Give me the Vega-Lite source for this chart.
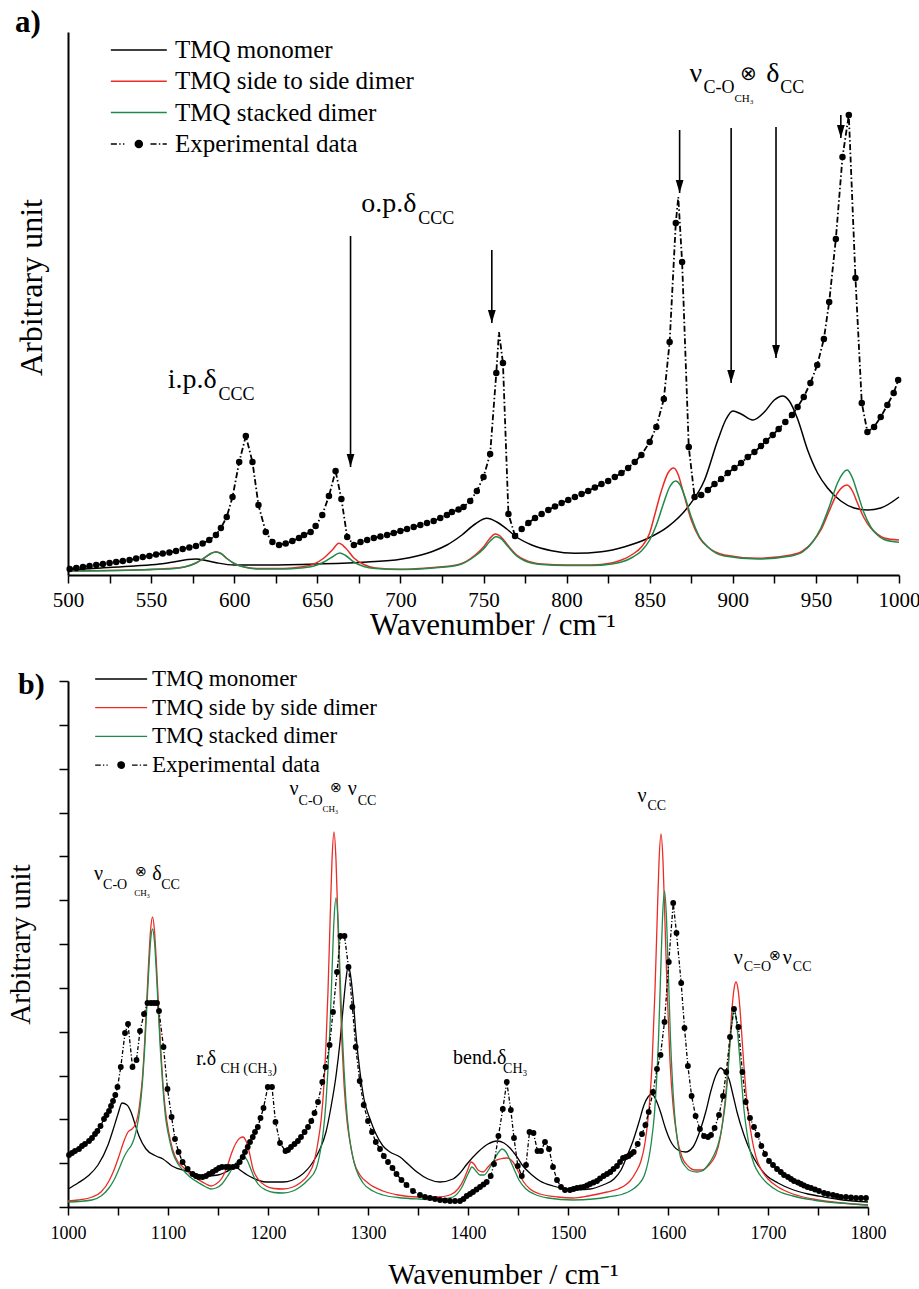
{
  "$schema": "https://vega.github.io/schema/vega-lite/v6.json",
  "padding": {"top": 7, "left": 6, "right": 0, "bottom": 0},
  "spacing": 27,
  "config": {
    "view": {"stroke": null},
    "font": "Liberation Serif",
    "axis": {"grid": false, "domainColor": "black", "domainWidth": 2, "tickColor": "black", "tickWidth": 1.5, "labelColor": "black", "titleColor": "black", "titleFontWeight": "normal", "labelFont": "Liberation Serif", "titleFont": "Liberation Serif", "labelFlush": false, "labelOverlap": false},
    "legend": {"labelFont": "Liberation Serif", "labelColor": "black"}
  },
  "resolve": {"scale": {"color": "independent", "x": "independent", "y": "independent"}, "legend": {"color": "independent"}},
  "datasets": {
    "aModel": [
      {"series":"TMQ monomer","wn":500,"v":5},{"series":"TMQ monomer","wn":520,"v":7},{"series":"TMQ monomer","wn":540,"v":9},{"series":"TMQ monomer","wn":555,"v":11},{"series":"TMQ monomer","wn":565,"v":13.5},{"series":"TMQ monomer","wn":572,"v":15.5},{"series":"TMQ monomer","wn":577,"v":16},{"series":"TMQ monomer","wn":583,"v":14.5},{"series":"TMQ monomer","wn":590,"v":12},{"series":"TMQ monomer","wn":600,"v":10},{"series":"TMQ monomer","wn":620,"v":10},{"series":"TMQ monomer","wn":650,"v":11},{"series":"TMQ monomer","wn":680,"v":13},{"series":"TMQ monomer","wn":700,"v":15.7},{"series":"TMQ monomer","wn":710,"v":19},{"series":"TMQ monomer","wn":720,"v":24},{"series":"TMQ monomer","wn":728,"v":30},{"series":"TMQ monomer","wn":737,"v":40},{"series":"TMQ monomer","wn":745,"v":51},{"series":"TMQ monomer","wn":752,"v":56.7},{"series":"TMQ monomer","wn":758,"v":53},{"series":"TMQ monomer","wn":764,"v":46},{"series":"TMQ monomer","wn":769,"v":39},{"series":"TMQ monomer","wn":779,"v":30},{"series":"TMQ monomer","wn":791,"v":24.3},{"series":"TMQ monomer","wn":805,"v":21.7},{"series":"TMQ monomer","wn":821,"v":23.3},{"series":"TMQ monomer","wn":835,"v":28.3},{"series":"TMQ monomer","wn":849,"v":36.7},{"series":"TMQ monomer","wn":861,"v":48.3},{"series":"TMQ monomer","wn":873,"v":68},{"series":"TMQ monomer","wn":883,"v":95},{"series":"TMQ monomer","wn":891,"v":135},{"series":"TMQ monomer","wn":896,"v":156},{"series":"TMQ monomer","wn":900,"v":164},{"series":"TMQ monomer","wn":905,"v":161},{"series":"TMQ monomer","wn":912,"v":155},{"series":"TMQ monomer","wn":919,"v":163},{"series":"TMQ monomer","wn":925,"v":175},{"series":"TMQ monomer","wn":930,"v":179},{"series":"TMQ monomer","wn":934,"v":174},{"series":"TMQ monomer","wn":939,"v":156},{"series":"TMQ monomer","wn":945,"v":125},{"series":"TMQ monomer","wn":951,"v":102},{"series":"TMQ monomer","wn":957,"v":87},{"series":"TMQ monomer","wn":965,"v":74},{"series":"TMQ monomer","wn":973,"v":67},{"series":"TMQ monomer","wn":981,"v":65},{"series":"TMQ monomer","wn":989,"v":67},{"series":"TMQ monomer","wn":1000,"v":78},
      {"series":"TMQ side to side dimer","wn":500,"v":4},{"series":"TMQ side to side dimer","wn":540,"v":5},{"series":"TMQ side to side dimer","wn":560,"v":6.5},{"series":"TMQ side to side dimer","wn":570,"v":8},{"series":"TMQ side to side dimer","wn":577,"v":12},{"series":"TMQ side to side dimer","wn":582,"v":17},{"series":"TMQ side to side dimer","wn":586,"v":21.5},{"series":"TMQ side to side dimer","wn":589,"v":23.3},{"series":"TMQ side to side dimer","wn":592,"v":21.5},{"series":"TMQ side to side dimer","wn":596,"v":16},{"series":"TMQ side to side dimer","wn":600,"v":11.5},{"series":"TMQ side to side dimer","wn":606,"v":8},{"series":"TMQ side to side dimer","wn":615,"v":6.5},{"series":"TMQ side to side dimer","wn":630,"v":6.5},{"series":"TMQ side to side dimer","wn":640,"v":8},{"series":"TMQ side to side dimer","wn":648,"v":11},{"series":"TMQ side to side dimer","wn":654,"v":17},{"series":"TMQ side to side dimer","wn":659,"v":25},{"series":"TMQ side to side dimer","wn":663,"v":31.7},{"series":"TMQ side to side dimer","wn":667,"v":27},{"series":"TMQ side to side dimer","wn":672,"v":17},{"series":"TMQ side to side dimer","wn":678,"v":10.5},{"series":"TMQ side to side dimer","wn":685,"v":7},{"series":"TMQ side to side dimer","wn":700,"v":5.7},{"series":"TMQ side to side dimer","wn":720,"v":7.5},{"series":"TMQ side to side dimer","wn":735,"v":10.5},{"series":"TMQ side to side dimer","wn":745,"v":20},{"series":"TMQ side to side dimer","wn":750,"v":28},{"series":"TMQ side to side dimer","wn":754,"v":37},{"series":"TMQ side to side dimer","wn":757,"v":41},{"series":"TMQ side to side dimer","wn":760,"v":39},{"series":"TMQ side to side dimer","wn":765,"v":29},{"series":"TMQ side to side dimer","wn":770,"v":20},{"series":"TMQ side to side dimer","wn":775,"v":15},{"series":"TMQ side to side dimer","wn":785,"v":11},{"series":"TMQ side to side dimer","wn":800,"v":10},{"series":"TMQ side to side dimer","wn":815,"v":10},{"series":"TMQ side to side dimer","wn":827,"v":12},{"series":"TMQ side to side dimer","wn":833,"v":15},{"series":"TMQ side to side dimer","wn":840,"v":21},{"series":"TMQ side to side dimer","wn":845,"v":28},{"series":"TMQ side to side dimer","wn":850,"v":42},{"series":"TMQ side to side dimer","wn":853,"v":60},{"series":"TMQ side to side dimer","wn":857,"v":84},{"series":"TMQ side to side dimer","wn":861,"v":102},{"series":"TMQ side to side dimer","wn":864.5,"v":107},{"series":"TMQ side to side dimer","wn":867,"v":101},{"series":"TMQ side to side dimer","wn":870,"v":84},{"series":"TMQ side to side dimer","wn":875,"v":55},{"series":"TMQ side to side dimer","wn":880,"v":37},{"series":"TMQ side to side dimer","wn":885,"v":28},{"series":"TMQ side to side dimer","wn":895,"v":20},{"series":"TMQ side to side dimer","wn":915,"v":16.7},{"series":"TMQ side to side dimer","wn":935,"v":20},{"series":"TMQ side to side dimer","wn":942,"v":24},{"series":"TMQ side to side dimer","wn":948,"v":33},{"series":"TMQ side to side dimer","wn":953,"v":45},{"series":"TMQ side to side dimer","wn":958,"v":64},{"series":"TMQ side to side dimer","wn":963,"v":82},{"series":"TMQ side to side dimer","wn":968.8,"v":90},{"series":"TMQ side to side dimer","wn":972,"v":84},{"series":"TMQ side to side dimer","wn":975,"v":72},{"series":"TMQ side to side dimer","wn":979,"v":57},{"series":"TMQ side to side dimer","wn":983,"v":47},{"series":"TMQ side to side dimer","wn":987,"v":41},{"series":"TMQ side to side dimer","wn":991,"v":37},{"series":"TMQ side to side dimer","wn":1000,"v":35},
      {"series":"TMQ stacked dimer","wn":500,"v":4},{"series":"TMQ stacked dimer","wn":560,"v":6},{"series":"TMQ stacked dimer","wn":570,"v":8},{"series":"TMQ stacked dimer","wn":577,"v":12},{"series":"TMQ stacked dimer","wn":582,"v":17},{"series":"TMQ stacked dimer","wn":586,"v":21.5},{"series":"TMQ stacked dimer","wn":589,"v":23},{"series":"TMQ stacked dimer","wn":592,"v":21.5},{"series":"TMQ stacked dimer","wn":596,"v":16},{"series":"TMQ stacked dimer","wn":600,"v":11.5},{"series":"TMQ stacked dimer","wn":606,"v":8},{"series":"TMQ stacked dimer","wn":615,"v":6},{"series":"TMQ stacked dimer","wn":630,"v":6},{"series":"TMQ stacked dimer","wn":640,"v":7},{"series":"TMQ stacked dimer","wn":648,"v":9},{"series":"TMQ stacked dimer","wn":654,"v":13},{"series":"TMQ stacked dimer","wn":659,"v":18},{"series":"TMQ stacked dimer","wn":663.5,"v":22},{"series":"TMQ stacked dimer","wn":667,"v":19.5},{"series":"TMQ stacked dimer","wn":672,"v":13},{"series":"TMQ stacked dimer","wn":678,"v":8.5},{"series":"TMQ stacked dimer","wn":685,"v":6.5},{"series":"TMQ stacked dimer","wn":700,"v":5.5},{"series":"TMQ stacked dimer","wn":720,"v":7},{"series":"TMQ stacked dimer","wn":735,"v":10},{"series":"TMQ stacked dimer","wn":745,"v":19},{"series":"TMQ stacked dimer","wn":750,"v":26},{"series":"TMQ stacked dimer","wn":754,"v":34},{"series":"TMQ stacked dimer","wn":757.5,"v":38.3},{"series":"TMQ stacked dimer","wn":760,"v":37},{"series":"TMQ stacked dimer","wn":765,"v":28},{"series":"TMQ stacked dimer","wn":770,"v":19},{"series":"TMQ stacked dimer","wn":775,"v":14},{"series":"TMQ stacked dimer","wn":785,"v":10.5},{"series":"TMQ stacked dimer","wn":800,"v":9.5},{"series":"TMQ stacked dimer","wn":815,"v":9.5},{"series":"TMQ stacked dimer","wn":827,"v":11},{"series":"TMQ stacked dimer","wn":833,"v":13},{"series":"TMQ stacked dimer","wn":840,"v":18},{"series":"TMQ stacked dimer","wn":845,"v":24},{"series":"TMQ stacked dimer","wn":850,"v":35},{"series":"TMQ stacked dimer","wn":854,"v":50},{"series":"TMQ stacked dimer","wn":858,"v":70},{"series":"TMQ stacked dimer","wn":862,"v":88},{"series":"TMQ stacked dimer","wn":865.7,"v":94},{"series":"TMQ stacked dimer","wn":868,"v":91},{"series":"TMQ stacked dimer","wn":871,"v":79},{"series":"TMQ stacked dimer","wn":875,"v":58},{"series":"TMQ stacked dimer","wn":880,"v":38},{"series":"TMQ stacked dimer","wn":885,"v":28},{"series":"TMQ stacked dimer","wn":895,"v":19},{"series":"TMQ stacked dimer","wn":915,"v":16},{"series":"TMQ stacked dimer","wn":935,"v":19},{"series":"TMQ stacked dimer","wn":942,"v":23},{"series":"TMQ stacked dimer","wn":948,"v":33},{"series":"TMQ stacked dimer","wn":953,"v":47},{"series":"TMQ stacked dimer","wn":958,"v":68},{"series":"TMQ stacked dimer","wn":963,"v":92},{"series":"TMQ stacked dimer","wn":968.8,"v":105},{"series":"TMQ stacked dimer","wn":972,"v":97},{"series":"TMQ stacked dimer","wn":975,"v":82},{"series":"TMQ stacked dimer","wn":979,"v":62},{"series":"TMQ stacked dimer","wn":983,"v":48},{"series":"TMQ stacked dimer","wn":987,"v":40},{"series":"TMQ stacked dimer","wn":991,"v":35.5},{"series":"TMQ stacked dimer","wn":1000,"v":32.7}
    ],
    "aExp": [
      {"wn":501,"v":6},{"wn":505,"v":7},{"wn":509,"v":8},{"wn":513,"v":9},{"wn":517,"v":10},{"wn":521,"v":11},{"wn":525,"v":12},{"wn":529,"v":13},{"wn":533,"v":14},{"wn":537,"v":15},{"wn":541,"v":16.5},{"wn":545,"v":18},{"wn":549,"v":19},{"wn":553,"v":20.5},{"wn":557,"v":21.5},{"wn":561,"v":22.5},{"wn":565,"v":24},{"wn":569,"v":26},{"wn":573,"v":27.5},{"wn":577,"v":29},{"wn":581,"v":31.5},{"wn":585,"v":35},{"wn":589,"v":40},{"wn":592,"v":47},{"wn":595.5,"v":58},{"wn":599,"v":78},{"wn":603,"v":113},{"wn":607,"v":139},{"wn":611,"v":113},{"wn":614.6,"v":70},{"wn":619,"v":43},{"wn":623,"v":33},{"wn":627,"v":30},{"wn":631,"v":31.5},{"wn":635,"v":34},{"wn":639,"v":37},{"wn":642,"v":40},{"wn":646,"v":43},{"wn":649,"v":49},{"wn":653,"v":60},{"wn":657,"v":79},{"wn":661,"v":104},{"wn":664.5,"v":76},{"wn":668,"v":38},{"wn":672,"v":30},{"wn":676,"v":33},{"wn":680,"v":35},{"wn":684,"v":37},{"wn":688,"v":38.5},{"wn":692,"v":40},{"wn":696,"v":42},{"wn":700,"v":44},{"wn":704,"v":46},{"wn":708,"v":48},{"wn":712,"v":50},{"wn":716,"v":52},{"wn":720,"v":54},{"wn":724,"v":57},{"wn":728,"v":60},{"wn":731,"v":63},{"wn":735,"v":65.5},{"wn":738,"v":68},{"wn":742,"v":74},{"wn":746,"v":84},{"wn":750,"v":98},{"wn":754,"v":121},{"wn":757.7,"v":202},{"wn":759.3,"v":243},{"wn":761.7,"v":212},{"wn":765,"v":61},{"wn":769,"v":39},{"wn":773,"v":46},{"wn":777,"v":52},{"wn":781,"v":57},{"wn":785,"v":61},{"wn":789,"v":65},{"wn":793,"v":68.5},{"wn":797,"v":72},{"wn":801,"v":75},{"wn":805,"v":78},{"wn":809,"v":81},{"wn":813,"v":84},{"wn":817,"v":87.5},{"wn":821,"v":91},{"wn":825,"v":94},{"wn":829,"v":98},{"wn":833,"v":102},{"wn":837,"v":107},{"wn":841,"v":113},{"wn":845,"v":120},{"wn":850,"v":133},{"wn":854,"v":148},{"wn":858.5,"v":176},{"wn":862,"v":233},{"wn":865.7,"v":352},{"wn":867.2,"v":378},{"wn":869.5,"v":313},{"wn":873.5,"v":128},{"wn":877,"v":78},{"wn":881,"v":80},{"wn":885,"v":85},{"wn":889,"v":91},{"wn":893,"v":96},{"wn":897,"v":102},{"wn":901,"v":107},{"wn":905,"v":112},{"wn":909,"v":118},{"wn":913,"v":123},{"wn":917,"v":129},{"wn":920,"v":134},{"wn":924,"v":140},{"wn":927.6,"v":146},{"wn":931.6,"v":153},{"wn":935.6,"v":160},{"wn":939,"v":168},{"wn":942.7,"v":178},{"wn":946.7,"v":192},{"wn":950.8,"v":210},{"wn":954.8,"v":236},{"wn":958,"v":273},{"wn":962,"v":336},{"wn":966,"v":418},{"wn":969.8,"v":460},{"wn":973.8,"v":297},{"wn":977.6,"v":172},{"wn":981,"v":143},{"wn":985,"v":148},{"wn":989,"v":158},{"wn":993,"v":170},{"wn":996.8,"v":182},{"wn":999.5,"v":195}
    ],
    "aArrows": [
      {"wn":670,"v":339,"tip":108},{"wn":755,"v":325,"tip":252},{"wn":868,"v":445,"tip":382},{"wn":899,"v":447,"tip":192},{"wn":926,"v":448,"tip":217},{"wn":965,"v":460,"tip":437}
    ],
    "aLabelMain": [{"wn":560,"v":187,"t":"i.p.δ"},{"wn":676.5,"v":363,"t":"o.p.δ"},{"wn":874,"v":493,"t":"ν"},{"wn":920.2,"v":493,"t":"δ"}],
    "aLabelSub": [{"wn":590.6,"v":175,"t":"CCC"},{"wn":710.7,"v":351,"t":"CCC"},{"wn":882.4,"v":482,"t":"C-O"},{"wn":928.6,"v":482,"t":"CC"}],
    "aLabelSubSub": [{"wn":901,"v":473,"t":"CH₃"}],
    "aLabelOp": [{"wn":904.6,"v":495,"t":"⊗"}],
    "bModel": [
      {"series":"TMQ monomer","wn":1000,"v":18},{"series":"TMQ monomer","wn":1010,"v":24},{"series":"TMQ monomer","wn":1020,"v":31},{"series":"TMQ monomer","wn":1030,"v":42},{"series":"TMQ monomer","wn":1040,"v":62},{"series":"TMQ monomer","wn":1045,"v":77},{"series":"TMQ monomer","wn":1050,"v":93},{"series":"TMQ monomer","wn":1054,"v":104},{"series":"TMQ monomer","wn":1059,"v":102},{"series":"TMQ monomer","wn":1063,"v":95},{"series":"TMQ monomer","wn":1067,"v":83},{"series":"TMQ monomer","wn":1071,"v":71},{"series":"TMQ monomer","wn":1078,"v":58},{"series":"TMQ monomer","wn":1088,"v":51},{"series":"TMQ monomer","wn":1095,"v":48},{"series":"TMQ monomer","wn":1104,"v":41},{"series":"TMQ monomer","wn":1118,"v":36},{"series":"TMQ monomer","wn":1138,"v":31},{"series":"TMQ monomer","wn":1150,"v":32},{"series":"TMQ monomer","wn":1158,"v":35},{"series":"TMQ monomer","wn":1165,"v":39},{"series":"TMQ monomer","wn":1168,"v":40},{"series":"TMQ monomer","wn":1172,"v":37},{"series":"TMQ monomer","wn":1181,"v":31},{"series":"TMQ monomer","wn":1198,"v":25},{"series":"TMQ monomer","wn":1215,"v":25},{"series":"TMQ monomer","wn":1232,"v":31},{"series":"TMQ monomer","wn":1245,"v":45},{"series":"TMQ monomer","wn":1252,"v":58},{"series":"TMQ monomer","wn":1258,"v":75},{"series":"TMQ monomer","wn":1263,"v":100},{"series":"TMQ monomer","wn":1268,"v":131},{"series":"TMQ monomer","wn":1272,"v":165},{"series":"TMQ monomer","wn":1275,"v":198},{"series":"TMQ monomer","wn":1278,"v":228},{"series":"TMQ monomer","wn":1280,"v":240},{"series":"TMQ monomer","wn":1282,"v":235},{"series":"TMQ monomer","wn":1285,"v":210},{"series":"TMQ monomer","wn":1288,"v":172},{"series":"TMQ monomer","wn":1292,"v":135},{"series":"TMQ monomer","wn":1296,"v":108},{"series":"TMQ monomer","wn":1302,"v":88},{"series":"TMQ monomer","wn":1308,"v":73},{"series":"TMQ monomer","wn":1315,"v":61},{"series":"TMQ monomer","wn":1322,"v":55},{"series":"TMQ monomer","wn":1332,"v":50},{"series":"TMQ monomer","wn":1340,"v":43},{"series":"TMQ monomer","wn":1349,"v":35},{"series":"TMQ monomer","wn":1360,"v":28},{"series":"TMQ monomer","wn":1372,"v":25},{"series":"TMQ monomer","wn":1385,"v":28},{"series":"TMQ monomer","wn":1392,"v":34},{"series":"TMQ monomer","wn":1399,"v":43},{"series":"TMQ monomer","wn":1410,"v":55},{"series":"TMQ monomer","wn":1420,"v":63},{"series":"TMQ monomer","wn":1429,"v":66},{"series":"TMQ monomer","wn":1436,"v":64},{"series":"TMQ monomer","wn":1442,"v":59},{"series":"TMQ monomer","wn":1449,"v":50},{"series":"TMQ monomer","wn":1455,"v":41},{"series":"TMQ monomer","wn":1464,"v":32},{"series":"TMQ monomer","wn":1472,"v":26},{"series":"TMQ monomer","wn":1485,"v":21},{"series":"TMQ monomer","wn":1499,"v":18},{"series":"TMQ monomer","wn":1510,"v":17.5},{"series":"TMQ monomer","wn":1522,"v":18},{"series":"TMQ monomer","wn":1535,"v":22},{"series":"TMQ monomer","wn":1546,"v":28},{"series":"TMQ monomer","wn":1553,"v":37},{"series":"TMQ monomer","wn":1559,"v":51},{"series":"TMQ monomer","wn":1565,"v":66},{"series":"TMQ monomer","wn":1571,"v":85},{"series":"TMQ monomer","wn":1576,"v":102},{"series":"TMQ monomer","wn":1580,"v":110},{"series":"TMQ monomer","wn":1584,"v":113},{"series":"TMQ monomer","wn":1588,"v":107},{"series":"TMQ monomer","wn":1592.5,"v":95},{"series":"TMQ monomer","wn":1597,"v":80},{"series":"TMQ monomer","wn":1602.5,"v":66},{"series":"TMQ monomer","wn":1610,"v":57},{"series":"TMQ monomer","wn":1617.5,"v":55},{"series":"TMQ monomer","wn":1625,"v":60},{"series":"TMQ monomer","wn":1632.6,"v":78},{"series":"TMQ monomer","wn":1638,"v":96},{"series":"TMQ monomer","wn":1642.6,"v":115},{"series":"TMQ monomer","wn":1648,"v":132},{"series":"TMQ monomer","wn":1652.6,"v":139},{"series":"TMQ monomer","wn":1657,"v":135},{"series":"TMQ monomer","wn":1661,"v":128},{"series":"TMQ monomer","wn":1665,"v":112},{"series":"TMQ monomer","wn":1669,"v":95},{"series":"TMQ monomer","wn":1676,"v":72},{"series":"TMQ monomer","wn":1682.7,"v":55},{"series":"TMQ monomer","wn":1690,"v":42},{"series":"TMQ monomer","wn":1699,"v":31},{"series":"TMQ monomer","wn":1710,"v":24},{"series":"TMQ monomer","wn":1723,"v":18},{"series":"TMQ monomer","wn":1740,"v":13},{"series":"TMQ monomer","wn":1756,"v":10},{"series":"TMQ monomer","wn":1775,"v":7},{"series":"TMQ monomer","wn":1800,"v":5},
      {"series":"TMQ side by side dimer","wn":1000,"v":6},{"series":"TMQ side by side dimer","wn":1010,"v":7},{"series":"TMQ side by side dimer","wn":1024,"v":10},{"series":"TMQ side by side dimer","wn":1033,"v":15},{"series":"TMQ side by side dimer","wn":1041,"v":26},{"series":"TMQ side by side dimer","wn":1046,"v":37},{"series":"TMQ side by side dimer","wn":1051,"v":51},{"series":"TMQ side by side dimer","wn":1056,"v":66},{"series":"TMQ side by side dimer","wn":1060,"v":75},{"series":"TMQ side by side dimer","wn":1064,"v":78},{"series":"TMQ side by side dimer","wn":1067,"v":82},{"series":"TMQ side by side dimer","wn":1070,"v":92},{"series":"TMQ side by side dimer","wn":1072.5,"v":110},{"series":"TMQ side by side dimer","wn":1074.5,"v":130},{"series":"TMQ side by side dimer","wn":1076.5,"v":162},{"series":"TMQ side by side dimer","wn":1078.5,"v":201},{"series":"TMQ side by side dimer","wn":1080.5,"v":242},{"series":"TMQ side by side dimer","wn":1082.5,"v":276},{"series":"TMQ side by side dimer","wn":1084.5,"v":290},{"series":"TMQ side by side dimer","wn":1086.5,"v":276},{"series":"TMQ side by side dimer","wn":1088.5,"v":242},{"series":"TMQ side by side dimer","wn":1090.5,"v":201},{"series":"TMQ side by side dimer","wn":1092.5,"v":162},{"series":"TMQ side by side dimer","wn":1094.5,"v":130},{"series":"TMQ side by side dimer","wn":1097.5,"v":96},{"series":"TMQ side by side dimer","wn":1100.5,"v":76},{"series":"TMQ side by side dimer","wn":1104.5,"v":58},{"series":"TMQ side by side dimer","wn":1110,"v":45},{"series":"TMQ side by side dimer","wn":1115,"v":40},{"series":"TMQ side by side dimer","wn":1122,"v":33},{"series":"TMQ side by side dimer","wn":1131,"v":27},{"series":"TMQ side by side dimer","wn":1138,"v":23},{"series":"TMQ side by side dimer","wn":1143,"v":21},{"series":"TMQ side by side dimer","wn":1148,"v":23},{"series":"TMQ side by side dimer","wn":1154,"v":29},{"series":"TMQ side by side dimer","wn":1159,"v":40},{"series":"TMQ side by side dimer","wn":1164,"v":55},{"series":"TMQ side by side dimer","wn":1168,"v":64},{"series":"TMQ side by side dimer","wn":1172,"v":69},{"series":"TMQ side by side dimer","wn":1175,"v":70},{"series":"TMQ side by side dimer","wn":1178,"v":66},{"series":"TMQ side by side dimer","wn":1181,"v":56},{"series":"TMQ side by side dimer","wn":1185,"v":38},{"series":"TMQ side by side dimer","wn":1190,"v":28},{"series":"TMQ side by side dimer","wn":1198,"v":21},{"series":"TMQ side by side dimer","wn":1206,"v":18.5},{"series":"TMQ side by side dimer","wn":1215,"v":18},{"series":"TMQ side by side dimer","wn":1225,"v":20},{"series":"TMQ side by side dimer","wn":1232,"v":24},{"series":"TMQ side by side dimer","wn":1240,"v":32},{"series":"TMQ side by side dimer","wn":1246,"v":45},{"series":"TMQ side by side dimer","wn":1250,"v":65},{"series":"TMQ side by side dimer","wn":1253,"v":86},{"series":"TMQ side by side dimer","wn":1256,"v":123},{"series":"TMQ side by side dimer","wn":1258,"v":163},{"series":"TMQ side by side dimer","wn":1260,"v":216},{"series":"TMQ side by side dimer","wn":1262,"v":283},{"series":"TMQ side by side dimer","wn":1264,"v":347},{"series":"TMQ side by side dimer","wn":1266,"v":375},{"series":"TMQ side by side dimer","wn":1268,"v":347},{"series":"TMQ side by side dimer","wn":1270,"v":283},{"series":"TMQ side by side dimer","wn":1272,"v":216},{"series":"TMQ side by side dimer","wn":1274,"v":163},{"series":"TMQ side by side dimer","wn":1276,"v":123},{"series":"TMQ side by side dimer","wn":1279,"v":86},{"series":"TMQ side by side dimer","wn":1282,"v":65},{"series":"TMQ side by side dimer","wn":1286,"v":45},{"series":"TMQ side by side dimer","wn":1292,"v":32},{"series":"TMQ side by side dimer","wn":1300,"v":24},{"series":"TMQ side by side dimer","wn":1315,"v":16},{"series":"TMQ side by side dimer","wn":1330,"v":12},{"series":"TMQ side by side dimer","wn":1350,"v":10},{"series":"TMQ side by side dimer","wn":1370,"v":10},{"series":"TMQ side by side dimer","wn":1382,"v":12},{"series":"TMQ side by side dimer","wn":1390,"v":18},{"series":"TMQ side by side dimer","wn":1396,"v":28},{"series":"TMQ side by side dimer","wn":1400,"v":38},{"series":"TMQ side by side dimer","wn":1403,"v":45},{"series":"TMQ side by side dimer","wn":1406,"v":43},{"series":"TMQ side by side dimer","wn":1410,"v":37},{"series":"TMQ side by side dimer","wn":1415,"v":35},{"series":"TMQ side by side dimer","wn":1420,"v":40},{"series":"TMQ side by side dimer","wn":1425,"v":45},{"series":"TMQ side by side dimer","wn":1432,"v":48},{"series":"TMQ side by side dimer","wn":1439,"v":49},{"series":"TMQ side by side dimer","wn":1445,"v":45},{"series":"TMQ side by side dimer","wn":1450,"v":36},{"series":"TMQ side by side dimer","wn":1455,"v":26},{"series":"TMQ side by side dimer","wn":1462,"v":18},{"series":"TMQ side by side dimer","wn":1472,"v":13},{"series":"TMQ side by side dimer","wn":1490,"v":10},{"series":"TMQ side by side dimer","wn":1505,"v":9},{"series":"TMQ side by side dimer","wn":1520,"v":11},{"series":"TMQ side by side dimer","wn":1539,"v":15},{"series":"TMQ side by side dimer","wn":1550,"v":18},{"series":"TMQ side by side dimer","wn":1556,"v":21},{"series":"TMQ side by side dimer","wn":1562,"v":26},{"series":"TMQ side by side dimer","wn":1568,"v":35},{"series":"TMQ side by side dimer","wn":1573,"v":46},{"series":"TMQ side by side dimer","wn":1577,"v":64},{"series":"TMQ side by side dimer","wn":1581,"v":98},{"series":"TMQ side by side dimer","wn":1584,"v":142},{"series":"TMQ side by side dimer","wn":1587,"v":217},{"series":"TMQ side by side dimer","wn":1589,"v":282},{"series":"TMQ side by side dimer","wn":1591,"v":345},{"series":"TMQ side by side dimer","wn":1593,"v":373},{"series":"TMQ side by side dimer","wn":1595,"v":346},{"series":"TMQ side by side dimer","wn":1597,"v":284},{"series":"TMQ side by side dimer","wn":1599,"v":220},{"series":"TMQ side by side dimer","wn":1602,"v":146},{"series":"TMQ side by side dimer","wn":1605,"v":102},{"series":"TMQ side by side dimer","wn":1609,"v":70},{"series":"TMQ side by side dimer","wn":1614,"v":50},{"series":"TMQ side by side dimer","wn":1620,"v":41},{"series":"TMQ side by side dimer","wn":1627,"v":37},{"series":"TMQ side by side dimer","wn":1634,"v":37},{"series":"TMQ side by side dimer","wn":1641,"v":42},{"series":"TMQ side by side dimer","wn":1645,"v":47},{"series":"TMQ side by side dimer","wn":1648,"v":53},{"series":"TMQ side by side dimer","wn":1652,"v":68},{"series":"TMQ side by side dimer","wn":1655,"v":88},{"series":"TMQ side by side dimer","wn":1658,"v":115},{"series":"TMQ side by side dimer","wn":1660,"v":140},{"series":"TMQ side by side dimer","wn":1662,"v":169},{"series":"TMQ side by side dimer","wn":1664,"v":198},{"series":"TMQ side by side dimer","wn":1666,"v":218},{"series":"TMQ side by side dimer","wn":1668,"v":225},{"series":"TMQ side by side dimer","wn":1670,"v":218},{"series":"TMQ side by side dimer","wn":1672,"v":198},{"series":"TMQ side by side dimer","wn":1674,"v":169},{"series":"TMQ side by side dimer","wn":1676,"v":140},{"series":"TMQ side by side dimer","wn":1678,"v":115},{"series":"TMQ side by side dimer","wn":1681,"v":88},{"series":"TMQ side by side dimer","wn":1684,"v":68},{"series":"TMQ side by side dimer","wn":1688,"v":50},{"series":"TMQ side by side dimer","wn":1694,"v":36},{"series":"TMQ side by side dimer","wn":1700,"v":28},{"series":"TMQ side by side dimer","wn":1710,"v":20},{"series":"TMQ side by side dimer","wn":1725,"v":13},{"series":"TMQ side by side dimer","wn":1745,"v":8},{"series":"TMQ side by side dimer","wn":1765,"v":5},{"series":"TMQ side by side dimer","wn":1785,"v":3},{"series":"TMQ side by side dimer","wn":1800,"v":2},
      {"series":"TMQ stacked dimer","wn":1000,"v":5},{"series":"TMQ stacked dimer","wn":1024,"v":7},{"series":"TMQ stacked dimer","wn":1033,"v":11},{"series":"TMQ stacked dimer","wn":1041,"v":19},{"series":"TMQ stacked dimer","wn":1046,"v":27},{"series":"TMQ stacked dimer","wn":1051,"v":38},{"series":"TMQ stacked dimer","wn":1056,"v":50},{"series":"TMQ stacked dimer","wn":1060,"v":57},{"series":"TMQ stacked dimer","wn":1063,"v":61},{"series":"TMQ stacked dimer","wn":1066,"v":68},{"series":"TMQ stacked dimer","wn":1069,"v":80},{"series":"TMQ stacked dimer","wn":1071.5,"v":95},{"series":"TMQ stacked dimer","wn":1074.5,"v":125},{"series":"TMQ stacked dimer","wn":1076.5,"v":155},{"series":"TMQ stacked dimer","wn":1078.5,"v":193},{"series":"TMQ stacked dimer","wn":1080.5,"v":232},{"series":"TMQ stacked dimer","wn":1082.5,"v":265},{"series":"TMQ stacked dimer","wn":1084.5,"v":278},{"series":"TMQ stacked dimer","wn":1086.5,"v":265},{"series":"TMQ stacked dimer","wn":1088.5,"v":232},{"series":"TMQ stacked dimer","wn":1090.5,"v":193},{"series":"TMQ stacked dimer","wn":1092.5,"v":155},{"series":"TMQ stacked dimer","wn":1094.5,"v":125},{"series":"TMQ stacked dimer","wn":1097.5,"v":90},{"series":"TMQ stacked dimer","wn":1100.5,"v":72},{"series":"TMQ stacked dimer","wn":1104.5,"v":55},{"series":"TMQ stacked dimer","wn":1110,"v":43},{"series":"TMQ stacked dimer","wn":1115,"v":37},{"series":"TMQ stacked dimer","wn":1122,"v":30},{"series":"TMQ stacked dimer","wn":1131,"v":24},{"series":"TMQ stacked dimer","wn":1138,"v":20},{"series":"TMQ stacked dimer","wn":1143,"v":18},{"series":"TMQ stacked dimer","wn":1148,"v":19},{"series":"TMQ stacked dimer","wn":1154,"v":23},{"series":"TMQ stacked dimer","wn":1159,"v":30},{"series":"TMQ stacked dimer","wn":1164,"v":38},{"series":"TMQ stacked dimer","wn":1168,"v":44},{"series":"TMQ stacked dimer","wn":1172,"v":48},{"series":"TMQ stacked dimer","wn":1176,"v":50},{"series":"TMQ stacked dimer","wn":1179,"v":47},{"series":"TMQ stacked dimer","wn":1182,"v":40},{"series":"TMQ stacked dimer","wn":1186,"v":30},{"series":"TMQ stacked dimer","wn":1190,"v":23},{"series":"TMQ stacked dimer","wn":1198,"v":17},{"series":"TMQ stacked dimer","wn":1206,"v":14.5},{"series":"TMQ stacked dimer","wn":1215,"v":14},{"series":"TMQ stacked dimer","wn":1225,"v":16},{"series":"TMQ stacked dimer","wn":1232,"v":20},{"series":"TMQ stacked dimer","wn":1240,"v":27},{"series":"TMQ stacked dimer","wn":1248,"v":38},{"series":"TMQ stacked dimer","wn":1252,"v":54},{"series":"TMQ stacked dimer","wn":1255,"v":73},{"series":"TMQ stacked dimer","wn":1258,"v":105},{"series":"TMQ stacked dimer","wn":1260,"v":138},{"series":"TMQ stacked dimer","wn":1262,"v":180},{"series":"TMQ stacked dimer","wn":1264,"v":235},{"series":"TMQ stacked dimer","wn":1266,"v":287},{"series":"TMQ stacked dimer","wn":1268,"v":309},{"series":"TMQ stacked dimer","wn":1270,"v":287},{"series":"TMQ stacked dimer","wn":1272,"v":235},{"series":"TMQ stacked dimer","wn":1274,"v":180},{"series":"TMQ stacked dimer","wn":1276,"v":138},{"series":"TMQ stacked dimer","wn":1278,"v":105},{"series":"TMQ stacked dimer","wn":1281,"v":73},{"series":"TMQ stacked dimer","wn":1284,"v":54},{"series":"TMQ stacked dimer","wn":1288,"v":38},{"series":"TMQ stacked dimer","wn":1295,"v":24},{"series":"TMQ stacked dimer","wn":1305,"v":16},{"series":"TMQ stacked dimer","wn":1315,"v":12},{"series":"TMQ stacked dimer","wn":1330,"v":9.5},{"series":"TMQ stacked dimer","wn":1350,"v":8},{"series":"TMQ stacked dimer","wn":1370,"v":7.5},{"series":"TMQ stacked dimer","wn":1385,"v":10},{"series":"TMQ stacked dimer","wn":1394,"v":20},{"series":"TMQ stacked dimer","wn":1400,"v":33},{"series":"TMQ stacked dimer","wn":1404,"v":40},{"series":"TMQ stacked dimer","wn":1408,"v":36},{"series":"TMQ stacked dimer","wn":1412,"v":32},{"series":"TMQ stacked dimer","wn":1416,"v":32},{"series":"TMQ stacked dimer","wn":1421,"v":38},{"series":"TMQ stacked dimer","wn":1426,"v":47},{"series":"TMQ stacked dimer","wn":1430,"v":54},{"series":"TMQ stacked dimer","wn":1434,"v":58},{"series":"TMQ stacked dimer","wn":1438,"v":55},{"series":"TMQ stacked dimer","wn":1442,"v":47},{"series":"TMQ stacked dimer","wn":1446,"v":38},{"series":"TMQ stacked dimer","wn":1451,"v":27},{"series":"TMQ stacked dimer","wn":1458,"v":18},{"series":"TMQ stacked dimer","wn":1466,"v":13},{"series":"TMQ stacked dimer","wn":1480,"v":9},{"series":"TMQ stacked dimer","wn":1505,"v":7},{"series":"TMQ stacked dimer","wn":1525,"v":8},{"series":"TMQ stacked dimer","wn":1540,"v":10},{"series":"TMQ stacked dimer","wn":1555,"v":13},{"series":"TMQ stacked dimer","wn":1562,"v":16},{"series":"TMQ stacked dimer","wn":1570,"v":22},{"series":"TMQ stacked dimer","wn":1576.5,"v":32},{"series":"TMQ stacked dimer","wn":1580.5,"v":47},{"series":"TMQ stacked dimer","wn":1583.5,"v":66},{"series":"TMQ stacked dimer","wn":1586.5,"v":94},{"series":"TMQ stacked dimer","wn":1588.5,"v":125},{"series":"TMQ stacked dimer","wn":1590.5,"v":168},{"series":"TMQ stacked dimer","wn":1592.5,"v":229},{"series":"TMQ stacked dimer","wn":1594.5,"v":289},{"series":"TMQ stacked dimer","wn":1596.5,"v":316},{"series":"TMQ stacked dimer","wn":1598.5,"v":289},{"series":"TMQ stacked dimer","wn":1600.5,"v":229},{"series":"TMQ stacked dimer","wn":1602.5,"v":168},{"series":"TMQ stacked dimer","wn":1604.5,"v":125},{"series":"TMQ stacked dimer","wn":1606.5,"v":94},{"series":"TMQ stacked dimer","wn":1609.5,"v":66},{"series":"TMQ stacked dimer","wn":1612.5,"v":50},{"series":"TMQ stacked dimer","wn":1617,"v":41},{"series":"TMQ stacked dimer","wn":1623,"v":36},{"series":"TMQ stacked dimer","wn":1629,"v":35},{"series":"TMQ stacked dimer","wn":1634,"v":36},{"series":"TMQ stacked dimer","wn":1640,"v":42},{"series":"TMQ stacked dimer","wn":1646,"v":52},{"series":"TMQ stacked dimer","wn":1650,"v":62},{"series":"TMQ stacked dimer","wn":1654,"v":80},{"series":"TMQ stacked dimer","wn":1658,"v":110},{"series":"TMQ stacked dimer","wn":1660,"v":135},{"series":"TMQ stacked dimer","wn":1662,"v":163},{"series":"TMQ stacked dimer","wn":1664,"v":185},{"series":"TMQ stacked dimer","wn":1666,"v":198},{"series":"TMQ stacked dimer","wn":1668,"v":190},{"series":"TMQ stacked dimer","wn":1670,"v":170},{"series":"TMQ stacked dimer","wn":1672,"v":145},{"series":"TMQ stacked dimer","wn":1674,"v":120},{"series":"TMQ stacked dimer","wn":1676,"v":97},{"series":"TMQ stacked dimer","wn":1679,"v":74},{"series":"TMQ stacked dimer","wn":1682,"v":57},{"series":"TMQ stacked dimer","wn":1686,"v":43},{"series":"TMQ stacked dimer","wn":1692,"v":32},{"series":"TMQ stacked dimer","wn":1700,"v":23},{"series":"TMQ stacked dimer","wn":1710,"v":16},{"series":"TMQ stacked dimer","wn":1725,"v":11},{"series":"TMQ stacked dimer","wn":1745,"v":7},{"series":"TMQ stacked dimer","wn":1765,"v":4.5},{"series":"TMQ stacked dimer","wn":1785,"v":3},{"series":"TMQ stacked dimer","wn":1800,"v":2}
    ],
    "bExp": [
      {"wn":1001,"v":52},{"wn":1004,"v":54},{"wn":1007,"v":56},{"wn":1011,"v":58},{"wn":1014,"v":61},{"wn":1017,"v":63},{"wn":1021,"v":66},{"wn":1024,"v":69},{"wn":1027,"v":73},{"wn":1029.4,"v":76},{"wn":1032.5,"v":81},{"wn":1036,"v":88},{"wn":1038.5,"v":92},{"wn":1041,"v":96},{"wn":1043,"v":101},{"wn":1045,"v":106},{"wn":1047.3,"v":112},{"wn":1049.5,"v":120},{"wn":1052.8,"v":140},{"wn":1057,"v":174},{"wn":1060,"v":183},{"wn":1064.5,"v":140},{"wn":1068.5,"v":147},{"wn":1072,"v":176},{"wn":1076,"v":193},{"wn":1079.5,"v":204},{"wn":1083,"v":204},{"wn":1086,"v":204},{"wn":1089,"v":204},{"wn":1091,"v":196},{"wn":1095.5,"v":160},{"wn":1099.5,"v":118},{"wn":1103.6,"v":90},{"wn":1107,"v":68},{"wn":1110.6,"v":55},{"wn":1114.6,"v":45},{"wn":1119.6,"v":38},{"wn":1124.6,"v":33},{"wn":1128,"v":31},{"wn":1131,"v":30},{"wn":1134.6,"v":30},{"wn":1138,"v":31},{"wn":1141,"v":33},{"wn":1144.7,"v":35},{"wn":1148,"v":37},{"wn":1151,"v":39},{"wn":1154,"v":40},{"wn":1158,"v":40},{"wn":1161,"v":40},{"wn":1165,"v":40},{"wn":1168.7,"v":41},{"wn":1171.7,"v":45},{"wn":1174.7,"v":50},{"wn":1177,"v":55},{"wn":1179.7,"v":60},{"wn":1182,"v":65},{"wn":1184.8,"v":70},{"wn":1187,"v":75},{"wn":1189.8,"v":80},{"wn":1192.5,"v":89},{"wn":1195.5,"v":99},{"wn":1199.8,"v":120},{"wn":1204,"v":120},{"wn":1207.5,"v":85},{"wn":1212,"v":64},{"wn":1217.5,"v":56},{"wn":1220,"v":57},{"wn":1223,"v":60},{"wn":1226.5,"v":63},{"wn":1229.9,"v":66},{"wn":1233,"v":70},{"wn":1236.6,"v":75},{"wn":1240,"v":80},{"wn":1243.3,"v":86},{"wn":1246.5,"v":94},{"wn":1250,"v":105},{"wn":1254.3,"v":125},{"wn":1257.6,"v":140},{"wn":1261.6,"v":162},{"wn":1265,"v":195},{"wn":1269,"v":235},{"wn":1272.5,"v":271},{"wn":1276.5,"v":271},{"wn":1280.5,"v":240},{"wn":1284.4,"v":200},{"wn":1287.7,"v":160},{"wn":1291.7,"v":126},{"wn":1295.7,"v":102},{"wn":1300,"v":86},{"wn":1304,"v":75},{"wn":1307.8,"v":65},{"wn":1312,"v":58},{"wn":1315.8,"v":51},{"wn":1320,"v":45},{"wn":1324.5,"v":39},{"wn":1328.5,"v":33},{"wn":1333.5,"v":27},{"wn":1338.5,"v":22},{"wn":1345,"v":16},{"wn":1352,"v":12},{"wn":1357,"v":10},{"wn":1362,"v":9},{"wn":1367,"v":8},{"wn":1372,"v":7},{"wn":1377,"v":6.5},{"wn":1382,"v":6},{"wn":1387,"v":6},{"wn":1392,"v":6},{"wn":1395.5,"v":8},{"wn":1398.7,"v":11},{"wn":1402,"v":13},{"wn":1405,"v":15},{"wn":1408.5,"v":17.5},{"wn":1412,"v":20},{"wn":1415.5,"v":22.5},{"wn":1418.7,"v":25},{"wn":1422.7,"v":31},{"wn":1426,"v":43},{"wn":1430.4,"v":71},{"wn":1434.8,"v":98},{"wn":1438.8,"v":125},{"wn":1442.8,"v":97},{"wn":1446,"v":69},{"wn":1449.8,"v":41},{"wn":1453.8,"v":31},{"wn":1458,"v":42},{"wn":1461.5,"v":75},{"wn":1465.5,"v":74},{"wn":1469.5,"v":56},{"wn":1473,"v":56},{"wn":1477,"v":65},{"wn":1481,"v":58},{"wn":1485,"v":40},{"wn":1489,"v":27},{"wn":1493,"v":20},{"wn":1497,"v":17},{"wn":1502,"v":17},{"wn":1505.5,"v":18},{"wn":1509,"v":19},{"wn":1512.5,"v":19.5},{"wn":1515.6,"v":20},{"wn":1519,"v":21.5},{"wn":1522,"v":23},{"wn":1525.5,"v":24.5},{"wn":1529,"v":26},{"wn":1532,"v":28.5},{"wn":1535.6,"v":31},{"wn":1539,"v":33},{"wn":1542.3,"v":35},{"wn":1545.5,"v":38},{"wn":1549,"v":41},{"wn":1552,"v":45},{"wn":1555,"v":49},{"wn":1558,"v":50},{"wn":1560.6,"v":51},{"wn":1563,"v":53},{"wn":1565.7,"v":55},{"wn":1569.7,"v":63},{"wn":1574,"v":73},{"wn":1577.4,"v":82},{"wn":1580.7,"v":95},{"wn":1585,"v":115},{"wn":1589,"v":138},{"wn":1592.5,"v":152},{"wn":1596.5,"v":185},{"wn":1600.8,"v":245},{"wn":1605.2,"v":304},{"wn":1608.5,"v":274},{"wn":1613.2,"v":224},{"wn":1616.5,"v":179},{"wn":1619.9,"v":141},{"wn":1623.6,"v":111},{"wn":1627.6,"v":91},{"wn":1631.9,"v":78},{"wn":1636,"v":71},{"wn":1640,"v":70},{"wn":1643,"v":72},{"wn":1646.6,"v":79},{"wn":1651,"v":92},{"wn":1655,"v":111},{"wn":1658.3,"v":135},{"wn":1662,"v":170},{"wn":1666,"v":198},{"wn":1670.4,"v":180},{"wn":1674.4,"v":135},{"wn":1677.7,"v":105},{"wn":1682,"v":89},{"wn":1686,"v":80},{"wn":1689.4,"v":72},{"wn":1693.4,"v":61},{"wn":1697,"v":53},{"wn":1701,"v":46},{"wn":1705,"v":42},{"wn":1709,"v":38},{"wn":1712.8,"v":35},{"wn":1716,"v":32},{"wn":1720,"v":30},{"wn":1723,"v":28},{"wn":1726,"v":26},{"wn":1730,"v":24.5},{"wn":1733,"v":23},{"wn":1736,"v":21.5},{"wn":1739.5,"v":20},{"wn":1743,"v":19},{"wn":1747,"v":17.5},{"wn":1751,"v":16},{"wn":1756,"v":14},{"wn":1760,"v":13},{"wn":1765,"v":12},{"wn":1769,"v":11},{"wn":1773,"v":10},{"wn":1778,"v":10},{"wn":1783,"v":9.5},{"wn":1788,"v":9},{"wn":1793,"v":9},{"wn":1798,"v":9}
    ],
    "bLabelMain": [{"wn":1026.1,"v":327,"t":"ν"},{"wn":1084.2,"v":327,"t":"δ"},{"wn":1221.6,"v":412,"t":"ν"},{"wn":1279.7,"v":412,"t":"ν"},{"wn":1128.3,"v":142,"t":"r.δ"},{"wn":1385,"v":143,"t":"bend.δ"},{"wn":1569.4,"v":405,"t":"ν"},{"wn":1665.7,"v":243,"t":"ν"},{"wn":1714.8,"v":243,"t":"ν"}],
    "bLabelSub": [{"wn":1035.1,"v":318,"t":"C-O"},{"wn":1093.2,"v":318,"t":"CC"},{"wn":1230.6,"v":402,"t":"C-O"},{"wn":1289.7,"v":402,"t":"CC"},{"wn":1152.4,"v":134,"t":"CH (CH₃)"},{"wn":1435.1,"v":134,"t":"CH₃"},{"wn":1579.4,"v":397,"t":"CC"},{"wn":1675.7,"v":236,"t":"C=O"},{"wn":1724.8,"v":236,"t":"CC"}],
    "bLabelSubSub": [{"wn":1066.2,"v":311,"t":"CH₃"},{"wn":1254.6,"v":395,"t":"CH₃"}],
    "bLabelOp": [{"wn":1067.2,"v":331,"t":"⊗"},{"wn":1261.7,"v":415,"t":"⊗"},{"wn":1700.8,"v":247,"t":"⊗"}]
  },
  "vconcat": [
    {
      "width": 831,
      "height": 543,
      "title": {"text": "a)", "anchor": "start", "frame": "group", "dx": -53, "offset": -31, "baseline": "alphabetic", "fontSize": 31, "fontWeight": "bold", "font": "Liberation Serif", "color": "black"},
      "encoding": {
        "x": {"field": "wn", "type": "quantitative", "scale": {"domain": [500, 1000], "nice": false, "zero": false},
          "axis": {"title": "Wavenumber / cm⁻¹", "format": "d", "values": [500,525,550,575,600,625,650,675,700,725,750,775,800,825,850,875,900,925,950,975,1000], "labelExpr": "datum.value % 50 === 0 ? datum.label : ''", "tickSize": 8, "labelPadding": 6, "labelFont": "Liberation Serif", "titleFont": "Liberation Serif", "labelFontSize": 21, "titleFontSize": 31, "titlePadding": 0, "titleX": 424.5}},
        "y": {"field": "v", "type": "quantitative", "scale": {"domain": [0, 543], "nice": false, "zero": false},
          "axis": {"title": "Arbitrary unit", "ticks": false, "labels": false, "titleFont": "Liberation Serif", "titleFontSize": 32, "titlePadding": 20, "titleY": 255}}
      },
      "layer": [
        {
          "data": {"name": "aModel"},
          "mark": {"type": "line", "interpolate": "monotone", "strokeWidth": 1.5},
          "encoding": {
            "color": {"field": "series", "type": "nominal",
              "scale": {"domain": ["TMQ monomer", "TMQ side to side dimer", "TMQ stacked dimer", "Experimental data"], "range": ["#000000", "#ec2b25", "#1f8a4c", "#000000"]},
              "legend": {"title": null, "orient": "none", "legendX": 35, "legendY": 5.5, "padding": 0, "symbolSize": 87, "symbolStrokeWidth": 1.5, "labelFont": "Liberation Serif", "labelFontSize": 25, "labelOffset": 47, "rowPadding": 5.3, "labelLimit": 500,
                "encode": {"symbols": {"update": {
                  "shape": {"signal": "datum.value === 'Experimental data' ? 'M-1,0H0.3M0.8,0H1.1M1.6,0H1.9M4.25,0A0.75,0.75,0,1,0,5.75,0A0.75,0.75,0,1,0,4.25,0M7.5,0H8.8M9.3,0H9.6M10.1,0H11' : 'M-1,0H11'"},
                  "fill": {"value": "black"},
                  "stroke": {"signal": "datum.value === 'TMQ side to side dimer' ? '#ec2b25' : datum.value === 'TMQ stacked dimer' ? '#1f8a4c' : '#000000'"},
                  "strokeWidth": {"value": 1.5},
                  "opacity": {"value": 1}
                }}}}
            }
          }
        },
        {
          "data": {"name": "aExp"},
          "mark": {"type": "line", "color": "black", "strokeWidth": 1.8, "strokeDash": [6, 2.5, 1.5, 2.5]}
        },
        {
          "data": {"name": "aExp"},
          "transform": [{"filter": "datum.wn !== 759.3 && datum.wn !== 867.2"}],
          "mark": {"type": "point", "filled": true, "color": "black", "size": 42, "opacity": 1}
        },
        {
          "data": {"name": "aArrows"},
          "mark": {"type": "rule", "color": "black", "strokeWidth": 1.6},
          "encoding": {"y2": {"field": "tip"}}
        },
        {
          "data": {"name": "aArrows"},
          "mark": {"type": "point", "shape": "M-0.6,-2L0.6,-2L0,0Z", "size": 169, "filled": true, "color": "black", "opacity": 1},
          "encoding": {"y": {"field": "tip", "type": "quantitative"}}
        },
        {
          "data": {"name": "aLabelMain"},
          "mark": {"type": "text", "align": "left", "baseline": "alphabetic", "font": "Liberation Serif", "fontSize": 28, "color": "black"},
          "encoding": {"text": {"field": "t"}}
        },
        {
          "data": {"name": "aLabelSub"},
          "mark": {"type": "text", "align": "left", "baseline": "alphabetic", "font": "Liberation Serif", "fontSize": 18, "color": "black"},
          "encoding": {"text": {"field": "t"}}
        },
        {
          "data": {"name": "aLabelSubSub"},
          "mark": {"type": "text", "align": "left", "baseline": "alphabetic", "font": "Liberation Serif", "fontSize": 11, "color": "black"},
          "encoding": {"text": {"field": "t"}}
        },
        {
          "data": {"name": "aLabelOp"},
          "mark": {"type": "text", "align": "left", "baseline": "alphabetic", "font": "Liberation Serif", "fontSize": 20, "color": "black"},
          "encoding": {"text": {"field": "t"}}
        }
      ]
    },
    {
      "width": 800,
      "height": 526,
      "title": {"text": "b)", "anchor": "start", "frame": "group", "dx": -50, "offset": -56.5, "baseline": "alphabetic", "fontSize": 30, "fontWeight": "bold", "font": "Liberation Serif", "color": "black"},
      "encoding": {
        "x": {"field": "wn", "type": "quantitative", "scale": {"domain": [1000, 1800], "nice": false, "zero": false},
          "axis": {"title": "Wavenumber / cm⁻¹", "format": "d", "values": [1000,1050,1100,1150,1200,1250,1300,1350,1400,1450,1500,1550,1600,1650,1700,1750,1800], "labelExpr": "datum.value % 100 === 0 ? datum.label : ''", "tickSize": 8, "labelPadding": 9, "labelFont": "Liberation Serif", "titleFont": "Liberation Serif", "labelFontSize": 18, "titleFontSize": 29, "titlePadding": 18, "titleX": 435}},
        "y": {"field": "v", "type": "quantitative", "scale": {"domain": [0, 526], "nice": false, "zero": false},
          "axis": {"title": "Arbitrary unit", "values": [0,43.83,87.67,131.5,175.33,219.17,263,306.83,350.67,394.5,438.33,482.17,526], "labels": false, "tickSize": 9, "titleFont": "Liberation Serif", "titleFontSize": 29, "titlePadding": 23}}
      },
      "layer": [
        {
          "data": {"name": "bModel"},
          "mark": {"type": "line", "interpolate": "monotone", "strokeWidth": 1.3},
          "encoding": {
            "color": {"field": "series", "type": "nominal",
              "scale": {"domain": ["TMQ monomer", "TMQ side by side dimer", "TMQ stacked dimer", "Experimental data"], "range": ["#000000", "#ec2b25", "#1f8a4c", "#000000"]},
              "legend": {"title": null, "orient": "none", "legendX": 20, "legendY": -13.5, "padding": 0, "symbolSize": 75, "symbolStrokeWidth": 1.3, "labelFont": "Liberation Serif", "labelFontSize": 23, "labelOffset": 41, "rowPadding": 4.7, "labelLimit": 500,
                "encode": {"symbols": {"update": {
                  "shape": {"signal": "datum.value === 'Experimental data' ? 'M-1,0H0.3M0.8,0H1.1M1.6,0H1.9M4.25,0A0.75,0.75,0,1,0,5.75,0A0.75,0.75,0,1,0,4.25,0M7.5,0H8.8M9.3,0H9.6M10.1,0H11' : 'M-1,0H11'"},
                  "fill": {"value": "black"},
                  "stroke": {"signal": "datum.value === 'TMQ side by side dimer' ? '#ec2b25' : datum.value === 'TMQ stacked dimer' ? '#1f8a4c' : '#000000'"},
                  "strokeWidth": {"value": 1.3},
                  "opacity": {"value": 1}
                }}}}
            }
          }
        },
        {
          "data": {"name": "bExp"},
          "mark": {"type": "line", "color": "black", "strokeWidth": 1.3, "strokeDash": [4, 2, 1.2, 2]}
        },
        {
          "data": {"name": "bExp"},
          "mark": {"type": "point", "filled": true, "color": "black", "size": 34, "opacity": 1}
        },
        {
          "data": {"name": "bLabelMain"},
          "mark": {"type": "text", "align": "left", "baseline": "alphabetic", "font": "Liberation Serif", "fontSize": 20, "color": "black"},
          "encoding": {"text": {"field": "t"}}
        },
        {
          "data": {"name": "bLabelSub"},
          "mark": {"type": "text", "align": "left", "baseline": "alphabetic", "font": "Liberation Serif", "fontSize": 14, "color": "black"},
          "encoding": {"text": {"field": "t"}}
        },
        {
          "data": {"name": "bLabelSubSub"},
          "mark": {"type": "text", "align": "left", "baseline": "alphabetic", "font": "Liberation Serif", "fontSize": 9, "color": "black"},
          "encoding": {"text": {"field": "t"}}
        },
        {
          "data": {"name": "bLabelOp"},
          "mark": {"type": "text", "align": "left", "baseline": "alphabetic", "font": "Liberation Serif", "fontSize": 14, "color": "black"},
          "encoding": {"text": {"field": "t"}}
        }
      ]
    }
  ]
}
